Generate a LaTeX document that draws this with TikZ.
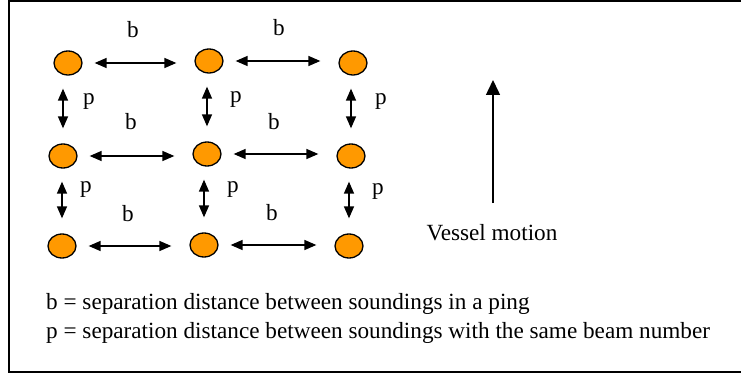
\documentclass[tikz,border=0pt]{standalone}
\usepackage{fontspec}
\setmainfont{Liberation Serif}
\usetikzlibrary{arrows.meta,shapes.geometric}
\definecolor{dotorange}{HTML}{FF9900}
\begin{document}
\begin{tikzpicture}[x=1pt,y=-1pt,
  sounding/.style={ellipse,draw=black,line width=1.3pt,fill=dotorange,minimum width=28pt,minimum height=24pt,inner sep=0pt},
  harr/.style={line width=1.5pt,{Triangle[length=12pt,width=10pt]}-{Triangle[length=12pt,width=10pt]},shorten <=12pt,shorten >=18pt},
  varr/.style={line width=1.5pt,{Triangle[length=12pt,width=10pt]}-{Triangle[length=12pt,width=10pt]},shorten <=13pt,shorten >=15pt},
  lbl/.style={anchor=base,inner sep=0pt,font=\fontsize{23.2}{28}\selectfont},
  txt/.style={anchor=base west,inner sep=0pt,font=\fontsize{23.2}{28}\selectfont}]
\useasboundingbox (0,0) rectangle (741,374);
\clip (0,0) rectangle (741,374);
\draw[line width=2pt] (9,1) rectangle (760,372);
% soundings
\node[sounding] (a11) at (68,63) {};
\node[sounding] (a12) at (209,61) {};
\node[sounding] (a13) at (353,63) {};
\node[sounding] (a21) at (63,156) {};
\node[sounding] (a22) at (207,154) {};
\node[sounding] (a23) at (351,156) {};
\node[sounding] (a31) at (62,246) {};
\node[sounding] (a32) at (204,245) {};
\node[sounding] (a33) at (349,246) {};
% horizontal arrows
\draw[harr] (a11.east) -- (a11.east -| a12.west);
\draw[harr] (a12.east) -- (a12.east -| a13.west);
\draw[harr] (a21.east) -- (a21.east -| a22.west);
\draw[harr] (a22.east) -- (a22.east -| a23.west);
\draw[harr] (a31.east) -- (a31.east -| a32.west);
\draw[harr] (a32.east) -- (a32.east -| a33.west);
% vertical arrows
\draw[varr] (a21.north |- a11.south) -- (a21.north);
\draw[varr] (a22.north |- a12.south) -- (a22.north);
\draw[varr] (a23.north |- a13.south) -- (a23.north);
\draw[varr] (a31.north |- a21.south) -- (a31.north);
\draw[varr] (a32.north |- a22.south) -- (a32.north);
\draw[varr] (a33.north |- a23.south) -- (a33.north);
% labels
\node[lbl] (b11) at (133,38) {b};
\node[lbl] (b12) at (279,36) {b};
\node[lbl] (b21) at (131,130) {b};
\node[lbl] (b22) at (274,130) {b};
\node[lbl] (b31) at (128,221) {b};
\node[lbl] (b32) at (272,220) {b};
\node[lbl] (p11) at (89,105) {p};
\node[lbl] (p12) at (236,103) {p};
\node[lbl] (p13) at (381,105) {p};
\node[lbl] (p21) at (86,193) {p};
\node[lbl] (p22) at (233,193) {p};
\node[lbl] (p23) at (378,195) {p};
% vessel motion
\coordinate (vbot) at (493,203);
\coordinate (vtop) at (493,80);
\draw[line width=1.5pt,-{Triangle[length=15pt,width=14pt]}] (vbot) -- (vtop);
\node[lbl] (vm) at (492,240) {Vessel motion};
% legend
\node[txt] (lg1) at (46,309) {b = separation distance between soundings in a ping};
\node[txt] (lg2) at (46,338) {p = separation distance between soundings with the same beam number};
\end{tikzpicture}
\end{document}
